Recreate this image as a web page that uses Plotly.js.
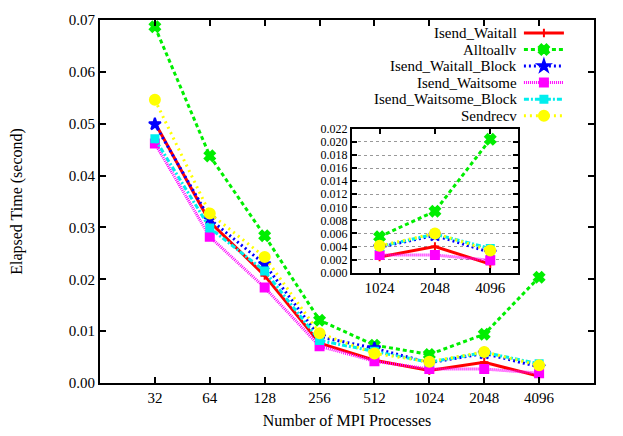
<!DOCTYPE html>
<html>
<head>
<meta charset="utf-8">
<script src="https://cdn.plot.ly/plotly-3.0.1.min.js"></script>
<style>
  body { margin: 0; padding: 0; background: #fff; }
  #plotArea { width: 623px; height: 436px; }
</style>
</head>
<body>
<div id="plotArea"></div>
<script>
// MPI process counts (x categories)
var procs = ["32", "64", "128", "256", "512", "1024", "2048", "4096"];

// elapsed time in seconds
var isendWaitall       = [0.0502, 0.0311, 0.0207, 0.0077, 0.0044, 0.0024, 0.0040, 0.0013];
var alltoallv          = [0.0687, 0.0438, 0.0284, 0.0121, 0.0073, 0.0055, 0.0094, 0.0204];
var isendWaitallBlock  = [0.0499, 0.0316, 0.0229, 0.0089, 0.0067, 0.0039, 0.0057, 0.0031];
var isendWaitsome      = [0.0462, 0.0282, 0.0184, 0.0071, 0.0042, 0.0027, 0.0027, 0.0019];
var isendWaitsomeBlock = [0.0471, 0.0299, 0.0216, 0.0082, 0.0061, 0.0040, 0.0059, 0.0037];
var sendrecv           = [0.0546, 0.0327, 0.0243, 0.0096, 0.0057, 0.0041, 0.0060, 0.0034];

var yTicks = [0, 0.01, 0.02, 0.03, 0.04, 0.05, 0.06, 0.07];
var insetTicks = [0, 0.002, 0.004, 0.006, 0.008, 0.010, 0.012, 0.014, 0.016, 0.018, 0.020, 0.022];

// the zoomed box only shows the last three process counts
var insetFrom = 5;

var series = [
    {name: "Isend_Waitall", y: isendWaitall, color: "#ff0000", dash: "solid", symbol: "cross-thin-open", size: 6},
    {name: "Alltoallv", y: alltoallv, color: "#00ee00", dash: "4px,3px", symbol: "x", size: 9},
    {name: "Isend_Waitall_Block", y: isendWaitallBlock, color: "#0000ff", dash: "2px,3px", symbol: "star", size: 9},
    {name: "Isend_Waitsome", y: isendWaitsome, color: "#ff00ff", dash: "1px,1px", symbol: "square", size: 8},
    {name: "Isend_Waitsome_Block", y: isendWaitsomeBlock, color: "#00eeee", dash: "5px,2px,2px,2px", symbol: "square", size: 7},
    {name: "Sendrecv", y: sendrecv, color: "#ffff00", dash: "2px,4px", symbol: "circle", size: 10}
];

var serif = {family: "Liberation Serif, Times New Roman, serif", size: 15, color: "#000"};
var titleFont = {family: "Liberation Serif, Times New Roman, serif", size: 16, color: "#000"};

// gnuplot style key: text on the left, sample on the right, one row each
var keyTop = 0.964, keyStep = 0.0455, keyTextX = 0.848, keySampleX = 0.848;

var data = [];
var annotations = [];
var layout = {
    width: 623,
    height: 436,
    margin: {l: 100, r: 29, t: 20, b: 53},
    paper_bgcolor: "#fff",
    plot_bgcolor: "#fff",
    font: serif,
    showlegend: true,
    xaxis: {
        type: "category", range: [-1, 8],
        showline: true, mirror: "ticks", linecolor: "#000", linewidth: 2,
        ticks: "inside", ticklen: 6, tickcolor: "#000", tickwidth: 1.5,
        showgrid: false, zeroline: false,
        title: {text: "Number of MPI Processes", font: titleFont, standoff: 10}
    },
    yaxis: {
        range: [0, 0.07], tickvals: yTicks, tickformat: ".2f",
        showline: true, mirror: "ticks", linecolor: "#000", linewidth: 2,
        ticks: "inside", ticklen: 6, tickcolor: "#000", tickwidth: 1.5,
        showgrid: false, zeroline: false,
        title: {text: "Elapsed Time (second)", font: titleFont, standoff: 42}
    },
    xaxis2: {
        type: "category", range: [-0.5, 2.5], domain: [0.51, 0.846], anchor: "y2",
        showline: true, mirror: "ticks", linecolor: "#000", linewidth: 2,
        ticks: "inside", ticklen: 5, tickcolor: "#000", tickwidth: 1.5,
        showgrid: false, zeroline: false
    },
    yaxis2: {
        range: [0, 0.022], tickvals: insetTicks, tickformat: ".3f", domain: [0.304, 0.70], anchor: "x2",
        tickfont: {family: "Liberation Serif, Times New Roman, serif", size: 12, color: "#000"},
        showline: true, mirror: "ticks", linecolor: "#000", linewidth: 2,
        ticks: "inside", ticklen: 5, tickcolor: "#000", tickwidth: 1.5,
        showgrid: true, gridcolor: "#999", griddash: "dot", gridwidth: 1, zeroline: false
    }
};

series.forEach(function (s, i) {
    var mk = {symbol: s.symbol, size: s.size, color: s.color, line: {color: s.color, width: 2}};
    var ln = {color: s.color, dash: s.dash, width: 3};
    var legendId = i === 0 ? "legend" : "legend" + (i + 1);
    var rowY = keyTop - i * keyStep;
    data.push({
        x: procs, y: s.y, name: "", mode: "lines+markers", type: "scatter",
        line: ln, marker: mk, xaxis: "x", yaxis: "y", legend: legendId
    });
    data.push({
        x: procs.slice(insetFrom), y: s.y.slice(insetFrom), name: "",
        mode: "lines+markers", type: "scatter", showlegend: false,
        line: ln, marker: mk, xaxis: "x2", yaxis: "y2"
    });
    layout[legendId] = {
        x: keySampleX, xanchor: "left", y: rowY, yanchor: "middle",
        bgcolor: "rgba(0,0,0,0)", font: {family: "Liberation Serif", size: 8},
        itemwidth: 40
    };
    annotations.push({
        text: s.name, xref: "paper", yref: "paper", x: keyTextX, y: rowY,
        xanchor: "right", yanchor: "middle", showarrow: false, font: serif
    });
});
layout.annotations = annotations;

Plotly.newPlot("plotArea", data, layout, {displayModeBar: false});
</script>
</body>
</html>
